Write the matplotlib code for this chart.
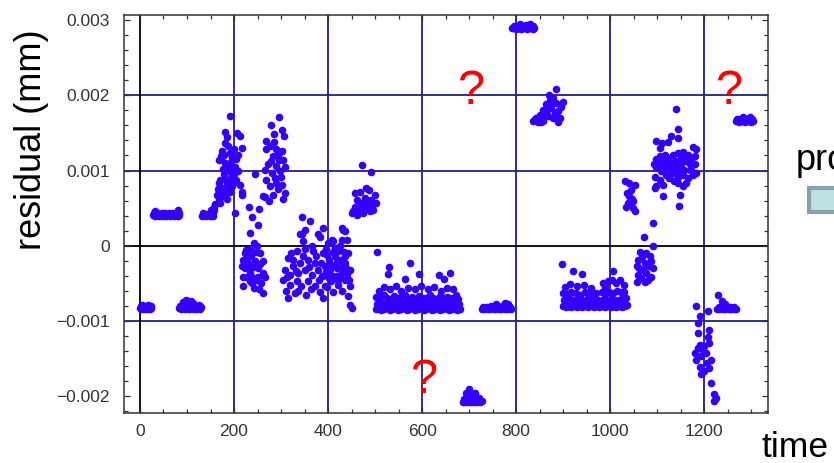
import matplotlib
matplotlib.use('Agg')
import matplotlib.pyplot as plt
from matplotlib.ticker import FixedLocator, MultipleLocator, FixedFormatter
from matplotlib.patches import Rectangle

plt.rcParams['font.family'] = ['Liberation Sans', 'DejaVu Sans']

# ---------------- data: (time, residual in 1e-3 mm) ----------------
cluster_a = [(0,-0.83),(3,-0.84),(6,-0.83),(9,-0.84),(12,-0.83),(15,-0.84),(18,-0.83),(21,-0.84),(24,-0.83),
             (2,-0.80),(5,-0.79),(9,-0.81),(13,-0.80),(17,-0.79),(20,-0.81),(23,-0.80)]
cluster_b = [(28,0.41),(32,0.40),(36,0.41),(40,0.40),(44,0.41),(48,0.40),(52,0.41),(56,0.40),(60,0.41),(64,0.40),
             (68,0.41),(72,0.40),(76,0.41),(80,0.40),(84,0.41),(30,0.44),(38,0.43),(46,0.44),(54,0.43),(62,0.44),
             (70,0.43),(78,0.44),(83,0.43),(32,0.46),(80,0.47)]
cluster_c = [(84,-0.83),(88,-0.84),(92,-0.83),(96,-0.84),(100,-0.83),(104,-0.84),(108,-0.83),(112,-0.84),(116,-0.83),
             (120,-0.84),(124,-0.83),(128,-0.84),(130,-0.82),(86,-0.80),(94,-0.79),(102,-0.80),(110,-0.79),(118,-0.80),
             (126,-0.79),(92,-0.75),(97,-0.72),(102,-0.74),(108,-0.73),(113,-0.76)]
cluster_d = [(132,0.40),(136,0.41),(140,0.40),(144,0.41),(148,0.40),(152,0.41),(156,0.40),(134,0.43),(142,0.42),
             (150,0.43),(155,0.45),(158,0.47),(153,0.46)]
cluster_e = [(191,1.72),(181,1.51),(184,1.45),(207,1.50),(213,1.46),(188,1.33),(181,1.37),(174,1.26),(172,1.19),
             (191,1.23),(200,1.28),(216,1.30),(209,1.21),(172,1.15),(181,1.10),(191,1.10),(204,1.15),(198,1.03),
             (209,0.99),(188,0.99),(168,1.14),(170,0.88),(181,0.90),(195,0.92),(205,0.88),(212,0.81),(174,0.77),
             (184,0.79),(191,0.72),(165,0.75),(177,0.66),(167,0.62),(160,0.55),(170,0.57),(152,0.48),(216,0.72),
             (218,0.68),(202,0.44),(186,1.05),(194,0.98),(200,0.85),(178,0.95),(163,0.68),(186,0.62),(196,0.80),
             (176,1.02),(203,1.05),(168,0.83),(157,0.52),(183,0.72),(193,0.85),(178,1.20),(196,1.17),(185,0.85),
             (174,0.70),(199,0.95)]
cluster_f = [(244,0.95),(232,0.51),(253,0.49),(239,0.38),(252,0.27),(235,0.17)]
cluster_g = [(242,0.04),(248,-0.01),(234,-0.05),(223,-0.10),(237,-0.14),(255,-0.10),(220,-0.19),(230,-0.23),
             (244,-0.21),(262,-0.21),(223,-0.30),(235,-0.36),(251,-0.30),(262,-0.36),(220,-0.41),(233,-0.47),
             (248,-0.45),(258,-0.50),(220,-0.54),(242,-0.56),(261,-0.63),(227,-0.41),(241,-0.28),(251,-0.41),
             (266,-0.41),(228,-0.16),(246,-0.08),(238,-0.50),(254,-0.58),(217,-0.27),(231,-0.30),(239,-0.42),
             (226,-0.06),(255,-0.25)]
cluster_h = [(296,1.71),(278,1.60),(285,1.48),(303,1.54),(306,1.46),(269,1.39),(276,1.32),(290,1.28),(301,1.26),
             (269,1.28),(283,1.19),(305,1.14),(273,1.08),(290,1.06),(266,1.01),(280,0.97),(298,0.99),(308,1.04),
             (269,0.88),(287,0.90),(301,0.81),(294,0.75),(283,0.68),(275,0.59),(266,0.65),(308,0.70),(305,0.62),
             (290,0.83),(276,0.79),(262,0.66),(296,1.14),(284,1.38),(300,0.92),(278,1.13),(293,1.20)]
cluster_i = [(344,0.38),(361,0.33),(340,0.16),(350,0.21),(390,0.24),(429,0.24),(436,0.19),(379,0.15),(408,0.08)]
cluster_j = [(344,0.15),(333,-0.07),(347,0.06),(365,-0.01),(382,0.12),(400,0.03),(411,0.06),(422,-0.07),(443,-0.10),
             (315,-0.16),(326,-0.27),(340,-0.23),(358,-0.19),(375,-0.14),(385,-0.23),(403,-0.19),(414,-0.14),
             (426,-0.19),(437,-0.23),(308,-0.32),(319,-0.39),(337,-0.36),(351,-0.32),(365,-0.39),(379,-0.32),
             (393,-0.27),(404,-0.32),(418,-0.30),(432,-0.34),(446,-0.32),(305,-0.45),(319,-0.52),(333,-0.47),
             (343,-0.54),(358,-0.47),(372,-0.54),(382,-0.61),(393,-0.54),(407,-0.47),(422,-0.52),(436,-0.45),
             (446,-0.54),(315,-0.70),(329,-0.63),(354,-0.65),(390,-0.70),(411,-0.61),(443,-0.67),(450,-0.83),
             (446,-0.79),(395,-0.05),(411,-0.09),(425,0.00),(435,-0.14),(411,-0.27),(425,-0.39),(400,-0.41),
             (372,-0.23),(347,-0.14),(326,-0.19),(312,-0.41),(368,-0.07),(429,0.08),(441,0.08),(432,0.21),
             (388,-0.40),(416,-0.40),(440,-0.38),(397,-0.12),(430,-0.28),
             (405,-0.24),(419,-0.22),(433,-0.08),(438,-0.30),(421,-0.45),(395,-0.35),(408,-0.40),(444,-0.45),
             (381,-0.45),(360,-0.28),(332,-0.33),(322,-0.10),(352,-0.05),(390,-0.10),(415,-0.03),(398,-0.55),
             (430,-0.60),(364,-0.58),(336,-0.60),(310,-0.60)]
cluster_k = [(473,1.07),(491,0.98),(457,0.70),(468,0.72),(481,0.77),(499,0.68),(462,0.61),(478,0.63),(492,0.61),
             (454,0.46),(468,0.50),(481,0.52),(496,0.48),(461,0.41),(475,0.44),(489,0.46),(450,0.43),(503,0.57),
             (471,0.57),(485,0.57),(486,0.74),(458,0.52),(494,0.53),(465,0.45)]
cluster_l = [(501,-0.84),(507,-0.83),(513,-0.85),(519,-0.84),(525,-0.83),(531,-0.85),(537,-0.84),(543,-0.83),
             (549,-0.85),(555,-0.84),(561,-0.83),(567,-0.85),(573,-0.84),(579,-0.83),(585,-0.85),(591,-0.84),
             (597,-0.83),(603,-0.85),(609,-0.84),(615,-0.83),(621,-0.85),(627,-0.84),(633,-0.83),(639,-0.85),
             (645,-0.84),(651,-0.83),(657,-0.85),(663,-0.84),(669,-0.83),(675,-0.85),(681,-0.84),
             (504,-0.77),(510,-0.76),(516,-0.78),(522,-0.77),(528,-0.76),(534,-0.78),(540,-0.77),(546,-0.76),
             (552,-0.78),(558,-0.77),(564,-0.76),(570,-0.78),(576,-0.77),(582,-0.76),(588,-0.78),(594,-0.77),
             (600,-0.76),(606,-0.78),(612,-0.77),(618,-0.76),(624,-0.78),(630,-0.77),(636,-0.76),(642,-0.78),
             (648,-0.77),(654,-0.76),(660,-0.78),(666,-0.77),(672,-0.76),(678,-0.78),
             (503,-0.68),(511,-0.70),(518,-0.66),(526,-0.69),(533,-0.71),(541,-0.67),(548,-0.70),(556,-0.68),
             (563,-0.66),(571,-0.70),(578,-0.68),(586,-0.71),(593,-0.67),(601,-0.69),(608,-0.70),(616,-0.66),
             (623,-0.69),(631,-0.71),(638,-0.67),(646,-0.70),(653,-0.68),(661,-0.70),(668,-0.69),(676,-0.71),
             (508,-0.60),(520,-0.55),(531,-0.58),(545,-0.53),(556,-0.60),(570,-0.56),(585,-0.58),(598,-0.54),
             (612,-0.57),(625,-0.55),(640,-0.60),(652,-0.56),(666,-0.58),(673,-0.65),
             (505,-0.08),(529,-0.28),(574,-0.23),(527,-0.37),(563,-0.44),(593,-0.37),(636,-0.39),(647,-0.44),
             (660,-0.36)]
cluster_m = [(728,-0.84),(732,-0.84),(736,-0.83),(740,-0.84),(744,-0.84),(748,-0.83),(752,-0.84),(756,-0.84),
             (760,-0.83),(764,-0.84),(768,-0.84),(772,-0.83),(776,-0.84),(780,-0.84),(784,-0.83),(788,-0.84),
             (730,-0.81),(738,-0.81),(746,-0.80),(754,-0.81),(762,-0.81),(770,-0.80),(778,-0.81),(786,-0.81),
             (758,-0.77),(776,-0.76),(782,-0.78)]
cluster_n = [(687,-2.08),(691,-2.08),(695,-2.07),(699,-2.08),(703,-2.08),(707,-2.07),(711,-2.08),(715,-2.08),
             (719,-2.07),(723,-2.08),(727,-2.07),(689,-2.04),(697,-2.04),(705,-2.03),(713,-2.04),(721,-2.04),
             (700,-1.91),(693,-1.96),(712,-1.96),(704,-1.99),(722,-2.02)]
cluster_o = [(791,2.89),(795,2.89),(799,2.88),(803,2.89),(807,2.89),(811,2.88),(815,2.89),(819,2.89),(823,2.88),
             (827,2.89),(831,2.89),(835,2.88),(839,2.89),(795,2.92),(803,2.92),(811,2.92),(819,2.92),(827,2.92),
             (835,2.92),(808,2.95),(829,2.95),(820,2.94)]
cluster_p = [(884,2.08),(900,1.91),(893,1.70),(871,1.94),(864,1.88),(857,1.81),(875,1.83),(882,1.77),(889,1.79),
             (850,1.74),(840,1.68),(836,1.66),(847,1.65),(857,1.66),(868,1.72),(879,1.70),(889,1.65),(878,1.96),
             (872,1.88),(866,1.80),(862,1.74),(854,1.70),(843,1.70),(870,2.00),(884,1.90),(895,1.85),(852,1.65)]
cluster_q = [(899,-0.80),(905,-0.81),(911,-0.80),(917,-0.81),(923,-0.80),(929,-0.81),(935,-0.80),(941,-0.81),
             (947,-0.80),(953,-0.81),(959,-0.80),(965,-0.81),(971,-0.80),(977,-0.81),(983,-0.80),(989,-0.81),
             (995,-0.80),(1001,-0.81),(1007,-0.80),(1013,-0.81),(1019,-0.80),(1025,-0.81),(1031,-0.80),(1035,-0.79),
             (902,-0.72),(908,-0.73),(914,-0.71),(920,-0.72),(926,-0.73),(932,-0.71),(938,-0.72),(944,-0.73),
             (950,-0.71),(956,-0.72),(962,-0.73),(968,-0.71),(974,-0.72),(980,-0.73),(986,-0.71),(992,-0.72),
             (998,-0.73),(1004,-0.71),(1010,-0.72),(1016,-0.73),(1022,-0.71),(1028,-0.72),(1033,-0.70),
             (900,-0.63),(908,-0.64),(916,-0.62),(928,-0.63),(936,-0.65),(947,-0.62),(958,-0.64),(970,-0.63),
             (982,-0.62),(990,-0.64),(998,-0.61),(1006,-0.63),(1014,-0.60),(1022,-0.62),(1030,-0.61),
             (903,-0.55),(915,-0.51),(930,-0.54),(945,-0.52),(960,-0.56),(985,-0.50),(995,-0.47),(1003,-0.45),
             (1012,-0.50),(1020,-0.46),(1030,-0.52),(990,-0.55),
             (898,-0.25),(920,-0.33),(941,-0.37),(1006,-0.33)]
cluster_r = [(1063,-0.08),(1077,-0.10),(1084,-0.14),(1059,-0.19),(1073,-0.23),(1087,-0.21),(1056,-0.27),
             (1070,-0.32),(1091,-0.30),(1059,-0.39),(1077,-0.36),(1087,-0.41),(1057,-0.48),(1073,-0.48),
             (1066,-0.43),(1080,-0.46),(1068,-0.15),(1082,-0.27),(1062,-0.30),(1072,0.12),(1090,0.30),(1090,-0.01)]
cluster_s = [(1031,0.86),(1041,0.83),(1052,0.81),(1045,0.74),(1041,0.66),(1048,0.59),(1034,0.52),(1049,0.50),
             (1052,0.46),(1038,0.57),(1036,0.70),(1046,0.62)]
cluster_t = [(1139,1.82),(1144,1.55),(1129,1.46),(1144,1.43),(1097,1.39),(1111,1.37),(1123,1.38),(1105,1.30),
             (1177,1.31),(1182,1.29),(1149,0.67),(1146,0.53),(1112,0.66),(1095,0.77),
             (1098,1.15),(1105,1.19),(1112,1.12),(1123,1.17),(1133,1.21),(1144,1.23),(1155,1.24),(1165,1.21),
             (1172,1.15),(1180,1.08),(1098,1.04),(1108,0.99),(1119,1.06),(1130,1.01),(1140,1.06),(1151,1.08),
             (1162,1.12),(1169,1.01),(1183,0.97),(1095,0.92),(1105,0.88),(1119,0.94),(1133,0.97),(1144,0.92),
             (1155,0.94),(1165,0.90),(1176,0.94),(1098,0.79),(1112,0.81),(1144,0.83),(1155,0.79),(1162,0.83),
             (1172,1.01),(1126,0.90),(1137,1.12),(1158,1.01),(1180,1.19),(1151,1.17),(1116,1.20),(1102,1.10),
             (1093,1.08),(1127,1.10),(1148,1.00),(1160,1.16),(1170,1.08),(1136,0.86),(1113,1.03)]
cluster_u = [(1183,-0.80),(1208,-0.87),(1192,-0.94),(1187,-1.03),(1187,-1.16),(1211,-1.12),(1208,-1.21),
             (1180,-1.43),(1190,-1.32),(1200,-1.34),(1211,-1.30),(1183,-1.52),(1194,-1.47),(1204,-1.43),
             (1215,-1.52),(1190,-1.61),(1200,-1.67),(1211,-1.63),(1194,-1.70),(1206,-1.56),(1215,-1.82),
             (1221,-1.97),(1221,-2.07),(1225,-2.03),(1197,-1.39),(1187,-1.36)]
cluster_v = [(1228,-0.84),(1232,-0.84),(1236,-0.83),(1240,-0.84),(1244,-0.84),(1248,-0.83),(1252,-0.84),
             (1256,-0.84),(1260,-0.83),(1264,-0.84),(1268,-0.84),(1231,-0.81),(1239,-0.81),(1247,-0.80),
             (1255,-0.81),(1263,-0.81),(1230,-0.66),(1238,-0.73),(1244,-0.78)]
cluster_w = [(1267,1.66),(1271,1.66),(1275,1.65),(1279,1.66),(1283,1.66),(1287,1.65),(1291,1.66),(1295,1.66),
             (1299,1.65),(1303,1.66),(1269,1.69),(1277,1.69),(1285,1.69),(1293,1.69),(1301,1.69),(1283,1.71),
             (1298,1.71)]

clusters = [cluster_a, cluster_b, cluster_c, cluster_d, cluster_e, cluster_f, cluster_g, cluster_h, cluster_i,
            cluster_j, cluster_k, cluster_l, cluster_m, cluster_n, cluster_o, cluster_p, cluster_q, cluster_r,
            cluster_s, cluster_t, cluster_u, cluster_v, cluster_w]

x_ticks = [0, 200, 400, 600, 800, 1000, 1200]
x_tick_labels = ['0', '200', '400', '600', '800', '1000', '1200']
y_ticks = [-0.002, -0.001, 0, 0.001, 0.002, 0.003]
y_tick_labels = ['\u22120.002', '\u22120.001', '0', '0.001', '0.002', '0.003']
x_grid = [200, 400, 600, 800, 1000, 1200]
y_grid = [-0.001, 0.001, 0.002]

# ---------------- drawing ----------------
fig = plt.figure(figsize=(8.34, 4.63), dpi=100)
ax = fig.add_axes([124/834, 1 - 412.7/463, (767.7 - 124)/834, (412.7 - 15.3)/463])
ax.set_xlim(-34, 1335)
ax.set_ylim(-2.221e-3, 3.064e-3)

navy = '#1e1e90'
for gx in x_grid:
    ax.axvline(gx, color=navy, lw=1.3, zorder=1)
for gy in y_grid:
    ax.axhline(gy, color=navy, lw=1.3, zorder=1)
ax.axvline(0, color='black', lw=1.3, zorder=1)
ax.axhline(0, color='black', lw=1.3, zorder=1)

ts = [p[0] for c in clusters for p in c]
rs = [p[1] * 1e-3 for c in clusters for p in c]
ax.scatter(ts, rs, s=30, c='#3300ff', linewidths=0, zorder=3)

ax.xaxis.set_major_locator(FixedLocator(x_ticks))
ax.xaxis.set_major_formatter(FixedFormatter(x_tick_labels))
ax.xaxis.set_minor_locator(MultipleLocator(50))
ax.yaxis.set_major_locator(FixedLocator(y_ticks))
ax.yaxis.set_major_formatter(FixedFormatter(y_tick_labels))
ax.yaxis.set_minor_locator(MultipleLocator(0.0002))
ax.tick_params(which='both', direction='in', top=True, right=True, color='#333333', width=0.9)
ax.tick_params(which='major', length=4.5, labelsize=12.5, labelcolor='#333333')
ax.tick_params(axis='y', which='major', pad=10)
ax.tick_params(axis='x', which='major', pad=8)
ax.tick_params(which='minor', length=3)
for sp in ax.spines.values():
    sp.set_color('#333333')
    sp.set_linewidth(1.1)

# red question marks
ax.text(704, 1.884e-3, '?', color='#ff0000', fontsize=35, ha='center', va='baseline', zorder=4)
ax.text(1251, 1.884e-3, '?', color='#ff0000', fontsize=35, ha='center', va='baseline', zorder=4, clip_on=False)
ax.text(604, -1.955e-3, '?', color='#ff0000', fontsize=35, ha='center', va='baseline', zorder=4)

# axis labels and side text (the "pro..." label is cut by the right edge in the reference as well)
fig.text(32/834, 1 - 140/463, 'residual (mm)', rotation=90, ha='center', va='center', fontsize=26, color='black')
fig.text(761/834, 1 - 457/463, 'time', ha='left', va='baseline', fontsize=25.5, color='black')
fig.text(796/834, 1 - 170/463, 'pro', ha='left', va='baseline', fontsize=26, color='black')
fig.patches.append(Rectangle((809/834, 1 - 212/463), 60/834, 24/463, transform=fig.transFigure,
                             facecolor='#bde2e3', edgecolor='#8aa3a3', linewidth=3, figure=fig))

fig.savefig('out.png', dpi=100)
